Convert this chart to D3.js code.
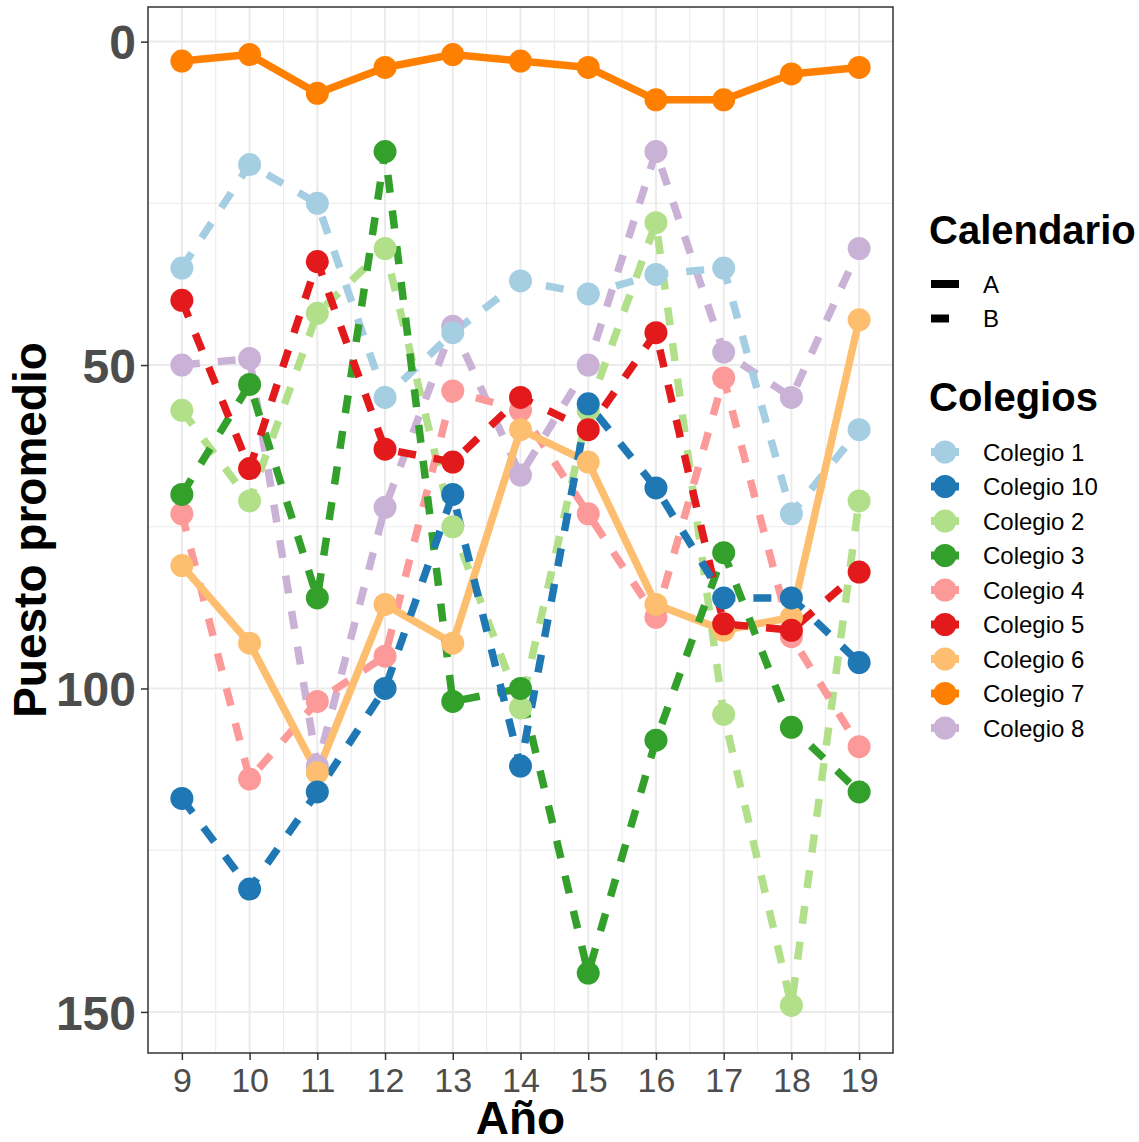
<!DOCTYPE html>
<html>
<head>
<meta charset="utf-8">
<script src="https://cdn.jsdelivr.net/npm/d3@7"></script>
<style>
  html, body { margin: 0; padding: 0; background: #fff; }
  svg { display: block; font-family: "Liberation Sans", Arial, sans-serif; }
</style>
</head>
<body>
<svg id="chart" width="1139" height="1142"></svg>
<script>
// ---- data ----
const years = [9, 10, 11, 12, 13, 14, 15, 16, 17, 18, 19];
const colegios = ["Colegio 1", "Colegio 10", "Colegio 2", "Colegio 3", "Colegio 4",
                  "Colegio 5", "Colegio 6", "Colegio 7", "Colegio 8"];
const calendario = ["B", "B", "B", "B", "B", "B", "A", "A", "B"];
const calendarioLevels = ["A", "B"];
const colegio1  = [35, 19, 25, 55, 45, 37, 39, 36, 35, 73, 60];
const colegio10 = [117, 131, 116, 100, 70, 112, 56, 69, 86, 86, 96];
const colegio2  = [57, 71, 42, 32, 75, 103, 57, 28, 104, 149, 71];
const colegio3  = [70, 53, 86, 17, 102, 100, 144, 108, 79, 106, 116];
const colegio4  = [73, 114, 102, 95, 54, 57, 73, 89, 52, 92, 109];
const colegio5  = [40, 66, 34, 63, 65, 55, 60, 45, 90, 91, 82];
const colegio6  = [81, 93, 113, 87, 93, 60, 65, 87, 91, 89, 43];
const colegio7  = [3, 2, 8, 4, 2, 3, 4, 9, 9, 5, 4];
const colegio8  = [50, 49, 112, 72, 44, 67, 50, 17, 48, 55, 32];
const seriesValues = [colegio1, colegio10, colegio2, colegio3, colegio4,
                      colegio5, colegio6, colegio7, colegio8];
const yTicks = [0, 50, 100, 150];
const yMinor = [25, 75, 125];

const palette = ["#A6CEE3", "#1F78B4", "#B2DF8A", "#33A02C", "#FB9A99",
                 "#E31A1C", "#FDBF6F", "#FF7F00", "#CAB2D6"];
const drawOrder = ["Colegio 8", "Colegio 1", "Colegio 2", "Colegio 4", "Colegio 6",
                   "Colegio 3", "Colegio 5", "Colegio 10", "Colegio 7"];

// ---- layout ----
const panel = { left: 148, right: 893, top: 7, bottom: 1053 };
const svg = d3.select("#chart");

const yMin = d3.min(seriesValues.flat()), yMax = d3.max(seriesValues.flat());
const yPad = (yMax - yMin) * 0.05;
const x = d3.scaleLinear().domain([8.5, 19.5]).range([panel.left, panel.right]);
const y = d3.scaleLinear().domain([yMin - yPad, yMax + yPad]).range([panel.top, panel.bottom]);
const color = d3.scaleOrdinal().domain(colegios).range(palette);
const dashFor = d3.scaleOrdinal().domain(calendarioLevels).range(["none", "18,18"]);

const series = colegios.map((c, i) => ({
  name: c, cal: calendario[i],
  values: years.map((yr, j) => ({ year: yr, value: seriesValues[i][j] }))
}));
const ordered = drawOrder.map(n => series.find(s => s.name === n));

// background
svg.append("rect").attr("width", 1139).attr("height", 1142).attr("fill", "#fff");

// grid
const grid = svg.append("g");
const xMinor = years.slice(0, -1).map(v => v + 0.5);
grid.selectAll(".xmin").data(xMinor).enter().append("line")
  .attr("x1", d => x(d)).attr("x2", d => x(d)).attr("y1", panel.top).attr("y2", panel.bottom)
  .attr("stroke", "#EBEBEB").attr("stroke-width", 1);
grid.selectAll(".ymin").data(yMinor).enter().append("line")
  .attr("y1", d => y(d)).attr("y2", d => y(d)).attr("x1", panel.left).attr("x2", panel.right)
  .attr("stroke", "#EBEBEB").attr("stroke-width", 1);
grid.selectAll(".xmaj").data(years).enter().append("line")
  .attr("x1", d => x(d)).attr("x2", d => x(d)).attr("y1", panel.top).attr("y2", panel.bottom)
  .attr("stroke", "#EBEBEB").attr("stroke-width", 2);
grid.selectAll(".ymaj").data(yTicks).enter().append("line")
  .attr("y1", d => y(d)).attr("y2", d => y(d)).attr("x1", panel.left).attr("x2", panel.right)
  .attr("stroke", "#EBEBEB").attr("stroke-width", 2);

// lines
const line = d3.line().x(d => x(d.year)).y(d => y(d.value));
const plot = svg.append("g");
plot.selectAll(".series").data(ordered).enter().append("path")
  .attr("d", d => line(d.values))
  .attr("fill", "none")
  .attr("stroke", d => color(d.name))
  .attr("stroke-width", 7.5)
  .attr("stroke-linecap", "butt")
  .attr("stroke-linejoin", "round")
  .attr("stroke-dasharray", d => dashFor(d.cal));

// points
ordered.forEach(s => {
  plot.append("g").selectAll("circle").data(s.values).enter().append("circle")
    .attr("cx", d => x(d.year)).attr("cy", d => y(d.value)).attr("r", 11.5)
    .attr("fill", color(s.name));
});

// panel border
svg.append("rect")
  .attr("x", panel.left).attr("y", panel.top)
  .attr("width", panel.right - panel.left).attr("height", panel.bottom - panel.top)
  .attr("fill", "none").attr("stroke", "#333333").attr("stroke-width", 1.5);

// axes
const xAxis = d3.axisBottom(x).tickValues(years).tickSize(7).tickPadding(6).tickFormat(d3.format("d"));
const gx = svg.append("g").attr("transform", `translate(0,${panel.bottom})`).call(xAxis);
gx.select(".domain").remove();
gx.selectAll(".tick line").attr("stroke", "#333333").attr("stroke-width", 1.5);
gx.selectAll(".tick text").attr("fill", "#4D4D4D").attr("font-size", 34)
  .attr("font-family", "Liberation Sans, Arial, sans-serif").attr("dy", "0.76em");

const yAxis = d3.axisLeft(y).tickValues(yTicks).tickSize(7).tickPadding(5);
const gy = svg.append("g").attr("transform", `translate(${panel.left},0)`).call(yAxis);
gy.select(".domain").remove();
gy.selectAll(".tick line").attr("stroke", "#333333").attr("stroke-width", 1.5);
gy.selectAll(".tick text").attr("fill", "#4D4D4D").attr("font-size", 48).attr("font-weight", "bold")
  .attr("font-family", "Liberation Sans, Arial, sans-serif").attr("dy", "0.36em");

// axis titles
svg.append("text").attr("x", (panel.left + panel.right) / 2).attr("y", 1134)
  .attr("text-anchor", "middle").attr("font-size", 46).attr("font-weight", "bold")
  .attr("fill", "#000").text("Año");
svg.append("text").attr("transform", `translate(46,${(panel.top + panel.bottom) / 2}) rotate(-90)`)
  .attr("text-anchor", "middle").attr("font-size", 46).attr("font-weight", "bold")
  .attr("fill", "#000").text("Puesto promedio");

// legend: Calendario
const lg = svg.append("g");
lg.append("text").attr("x", 929).attr("y", 244).attr("font-size", 40).attr("font-weight", "bold")
  .attr("fill", "#000").text("Calendario");
calendarioLevels.forEach((c, i) => {
  const cy = 284 + i * 34.5;
  lg.append("line").attr("x1", 931).attr("x2", 959).attr("y1", cy).attr("y2", cy)
    .attr("stroke", "#000").attr("stroke-width", 8)
    .attr("stroke-dasharray", dashFor(c));
  lg.append("text").attr("x", 983).attr("y", cy + 8.6).attr("font-size", 24)
    .attr("fill", "#000").text(c);
});

// legend: Colegios
lg.append("text").attr("x", 929).attr("y", 411).attr("font-size", 40).attr("font-weight", "bold")
  .attr("fill", "#000").text("Colegios");
colegios.forEach((c, i) => {
  const cy = 452 + i * 34.5;
  lg.append("line").attr("x1", 931).attr("x2", 959).attr("y1", cy).attr("y2", cy)
    .attr("stroke", color(c)).attr("stroke-width", 8);
  lg.append("circle").attr("cx", 945).attr("cy", cy).attr("r", 11.5).attr("fill", color(c));
  lg.append("text").attr("x", 983).attr("y", cy + 8.6).attr("font-size", 24)
    .attr("fill", "#000").text(c);
});
</script>
</body>
</html>
